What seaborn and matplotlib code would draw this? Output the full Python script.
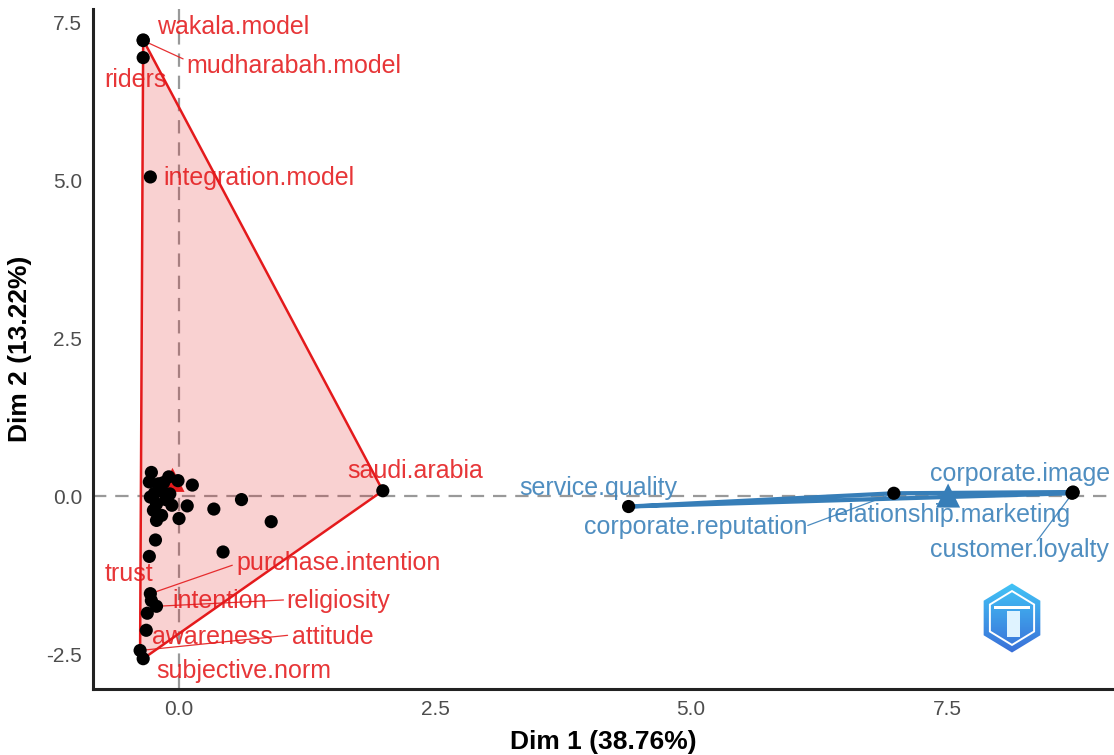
import numpy as np
import pandas as pd
import matplotlib
matplotlib.use("Agg")
import matplotlib.pyplot as plt
import seaborn as sns
from matplotlib.patches import Polygon, RegularPolygon
from matplotlib.colors import LinearSegmentedColormap

# ---------------- data ----------------
# cluster 1 (red) labelled points
red_names = ["wakala.model", "mudharabah.model", "riders", "integration.model",
             "saudi.arabia", "purchase.intention", "intention", "religiosity",
             "trust", "awareness", "attitude", "subjective.norm"]
red_x = [-0.35, -0.35, -0.35, -0.28, 1.99, -0.28, -0.27, -0.22, -0.31, -0.32, -0.38, -0.35]
red_y = [7.23, 7.22, 6.95, 5.06, 0.09, -1.54, -1.65, -1.74, -1.85, -2.12, -2.44, -2.57]
# cluster 1 points whose labels were not drawn
red_unl_x = [-0.27, -0.29, -0.10, -0.01, 0.13, -0.28, -0.17, -0.09, -0.22, -0.07, 0.08,
             -0.25, -0.17, -0.22, 0.00, 0.34, 0.61, 0.90, -0.23, -0.29, 0.43,
             -0.20, -0.13, -0.24, -0.15]
red_unl_y = [0.38, 0.23, 0.31, 0.25, 0.18, -0.01, 0.09, 0.04, -0.12, -0.14, -0.15,
             -0.22, -0.30, -0.38, -0.35, -0.20, -0.05, -0.40, -0.69, -0.95, -0.88,
             0.20, -0.05, 0.05, 0.22]
# cluster 2 (blue)
blue_names = ["service.quality", "corporate.reputation", "relationship.marketing",
              "corporate.image", "customer.loyalty"]
blue_x = [4.39, 6.98, 8.72, 8.73, 8.73]
blue_y = [-0.16, 0.05, 0.05, 0.07, 0.06]

xlab = "Dim 1 (38.76%)"
ylab = "Dim 2 (13.22%)"
xticks = [0.0, 2.5, 5.0, 7.5]
yticks = [-2.5, 0.0, 2.5, 5.0, 7.5]

# label placement: text anchor (left, centre) and optional segment end
red_lab_pos = {
    "wakala.model": (-0.215, 7.44, None),
    "mudharabah.model": (0.068, 6.82, (0.04, 6.93)),
    "riders": (-0.73, 6.60, None),
    "integration.model": (-0.156, 5.05, None),
    "saudi.arabia": (1.64, 0.41, None),
    "purchase.intention": (0.557, -1.06, (0.52, -1.09)),
    "trust": (-0.73, -1.23, None),
    "intention": (-0.068, -1.65, None),
    "religiosity": (1.045, -1.65, (1.02, -1.64)),
    "awareness": (-0.264, -2.22, None),
    "attitude": (1.10, -2.22, (1.06, -2.20)),
    "subjective.norm": (-0.225, -2.77, None),
}
blue_lab_pos = {
    "service.quality": (3.32, 0.14, None),
    "corporate.reputation": (3.95, -0.49, (6.14, -0.46)),
    "relationship.marketing": (6.32, -0.30, None),
    "corporate.image": (7.33, 0.36, None),
    "customer.loyalty": (7.33, -0.85, (8.38, -0.70)),
}

RED = "#E41A1C"
BLUE = "#377EB8"

# ---------------- helpers ----------------
def convex_hull(pts):
    pts = sorted(set(map(tuple, pts)))
    if len(pts) <= 2:
        return pts
    def cross(o, a, b):
        return (a[0]-o[0])*(b[1]-o[1]) - (a[1]-o[1])*(b[0]-o[0])
    lower, upper = [], []
    for p in pts:
        while len(lower) >= 2 and cross(lower[-2], lower[-1], p) <= 0:
            lower.pop()
        lower.append(p)
    for p in reversed(pts):
        while len(upper) >= 2 and cross(upper[-2], upper[-1], p) <= 0:
            upper.pop()
        upper.append(p)
    return lower[:-1] + upper[:-1]

sns.set_theme(style="white")
plt.rcParams["font.family"] = ["Liberation Sans", "DejaVu Sans"]

fig = plt.figure(figsize=(11.14, 7.55), dpi=100)
ax = fig.add_axes([93/1114, 66/755, 1 - 93/1114, (689-9)/755])

red_all_x = red_x + red_unl_x
red_all_y = red_y + red_unl_y
df_red = pd.DataFrame({"x": red_all_x, "y": red_all_y})
df_blue = pd.DataFrame({"x": blue_x, "y": blue_y})

# reference lines
ax.axhline(0, color="#999999", lw=1.6, ls=(0, (6, 4)), zorder=1)
ax.axvline(0, color="#999999", lw=1.6, ls=(0, (6, 4)), zorder=1)

# hulls
for df, col, lw in [(df_red, RED, 1.8), (df_blue, BLUE, 3.0)]:
    hull = convex_hull(df[["x", "y"]].values)
    poly = Polygon(hull, closed=True, facecolor=col, alpha=0.2, edgecolor="none", zorder=2)
    ax.add_patch(poly)
    hx = [p[0] for p in hull] + [hull[0][0]]
    hy = [p[1] for p in hull] + [hull[0][1]]
    ax.plot(hx, hy, color=col, lw=lw, zorder=3, solid_joinstyle="miter")

# centroids
for df, col in [(df_red, RED), (df_blue, BLUE)]:
    ax.scatter([df.x.mean()], [df.y.mean()], marker="^", s=300, color=col,
               edgecolor="none", zorder=4)

# points
sns.scatterplot(data=df_red, x="x", y="y", color="black", s=90, edgecolor="none",
                ax=ax, zorder=5, legend=False)
sns.scatterplot(data=df_blue, x="x", y="y", color="black", s=90, edgecolor="none",
                ax=ax, zorder=5, legend=False)

# labels
def put_labels(names, xs, ys, pos, col):
    for n, px, py in zip(names, xs, ys):
        tx, ty, seg = pos[n]
        if seg is not None:
            ax.plot([px, seg[0]], [py, seg[1]], color=col, lw=0.9, zorder=4, alpha=0.9)
        ax.text(tx, ty, n, color=col, fontsize=18, ha="left", va="center",
                zorder=6, alpha=0.88)

put_labels(red_names, red_x, red_y, red_lab_pos, RED)
put_labels(blue_names, blue_x, blue_y, blue_lab_pos, BLUE)

# axes styling
ax.set_xlim(-0.84, 9.13)
ax.set_ylim(-3.05, 7.72)
ax.set_xticks(xticks)
ax.set_yticks(yticks)
ax.set_xticklabels([f"{v:.1f}" for v in xticks])
ax.set_yticklabels([f"{v:.1f}" for v in yticks])
ax.tick_params(axis="both", length=0, labelsize=15, colors="#4d4d4d", pad=8)
ax.set_xlabel(xlab, fontsize=19, fontweight="bold", color="black", labelpad=8)
ax.set_ylabel(ylab, fontsize=19, fontweight="bold", color="black", labelpad=10)
for s in ["top", "right"]:
    ax.spines[s].set_visible(False)
for s in ["left", "bottom"]:
    ax.spines[s].set_color("#222222")
    ax.spines[s].set_linewidth(2.2)
ax.grid(False)

# small logo (decorative hexagon badge)
lax = fig.add_axes([(1012-36)/1114, 1-(618+38)/755, 72/1114, 76/755])
lax.set_xlim(-1.1, 1.1)
lax.set_ylim(-1.1, 1.1)
lax.set_aspect("equal")
lax.axis("off")
grad = np.linspace(0, 1, 100).reshape(-1, 1)
cmap = LinearSegmentedColormap.from_list("lg", ["#3a6fd8", "#42c4f6"])
im = lax.imshow(grad, extent=[-1, 1, 1, -1], cmap=cmap, aspect="auto", zorder=1)
outer = RegularPolygon((0, 0), 6, radius=1.0, orientation=0, transform=lax.transData)
im.set_clip_path(outer)
lax.add_patch(RegularPolygon((0, 0), 6, radius=0.78, orientation=0, facecolor="none",
                             edgecolor="white", lw=1.4, zorder=2))
lax.add_patch(Polygon([[-0.55, 0.25], [0.55, 0.25], [0.55, 0.35], [-0.55, 0.35]],
                      facecolor="white", edgecolor="none", zorder=3))
lax.add_patch(Polygon([[-0.15, 0.2], [0.25, 0.2], [0.25, -0.55], [-0.15, -0.55]],
                      facecolor="#dff3ff", edgecolor="none", zorder=3))

fig.savefig("out.png", dpi=100)
